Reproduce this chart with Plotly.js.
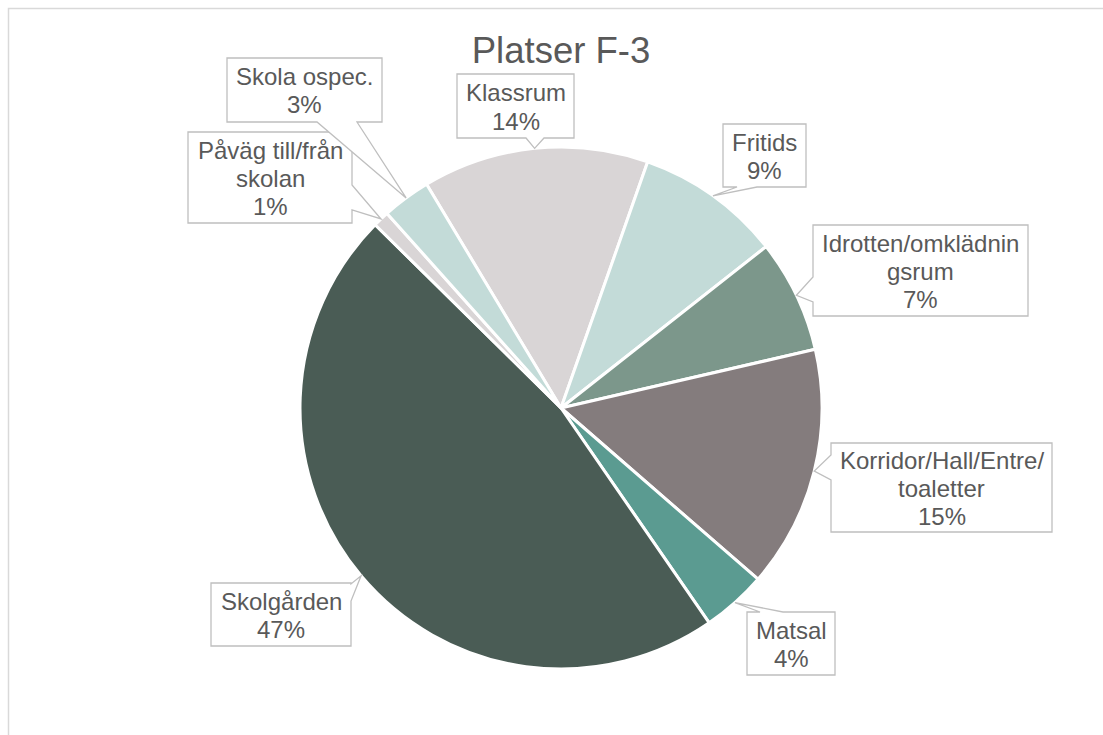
<!DOCTYPE html>
<html><head><meta charset="utf-8">
<script src="https://cdn.plot.ly/plotly-3.0.1.min.js"></script>
<style>html,body{margin:0;padding:0;background:#fff}</style>
</head><body><div id="chart" style="width:1103px;height:735px"></div>
<script>
// ---- data ----
const categories = ["Klassrum", "Fritids", "Idrotten/omklädningsrum", "Korridor/Hall/Entre/toaletter", "Matsal", "Skolgården", "Påväg till/från skolan", "Skola ospec."];
const values = [14, 9, 7, 15, 4, 47, 1, 3];
// display lines for the callouts (name wrapped as in the original)
const labelLines = [["Klassrum"], ["Fritids"], ["Idrotten/omklädnin", "gsrum"], ["Korridor/Hall/Entre/", "toaletter"], ["Matsal"], ["Skolgården"], ["Påväg till/från", "skolan"], ["Skola ospec."]];
const chartTitle = "Platser F-3";

// ---- styles / layout ----
const colors = ["#D9D5D6", "#C3DBD8", "#7C978B", "#847C7D", "#5B9B91", "#4A5C55", "#D9D5D6", "#C3DBD8"];
const W = 1103, H = 735, CX = 561, CY = 408, R = 261, ROT = -31;
const FONT = "Liberation Sans, Arial, sans-serif";
const TEXT_COLOR = "#595959";
// callout boxes in pixels: [x0,y0,x1,y1], pointer side and base range
const callouts = [
  {box: [457, 74, 574, 138], side: "bottom", base: [526, 544]},
  {box: [723, 124, 806, 187], side: "bottom", base: [737, 757]},
  {box: [813, 225, 1028, 316], side: "left", base: [277, 302]},
  {box: [831, 443, 1052, 532], side: "left", base: [455, 480]},
  {box: [747, 612, 835, 675], side: "top", base: [760, 783]},
  {box: [211, 583, 351, 646], side: "right", base: [584, 601]},
  {box: [188, 132, 352, 223], side: "right", base: [185, 210]},
  {box: [227, 58, 382, 122], side: "bottom", base: [317, 357]}
];
const LINE_H = 28;

const px = x => x / W;
const py = y => 1 - y / H;

const total = values.reduce((a, b) => a + b, 0);
let cum = 0;
const shapes = [];
const annotations = [];

// chart frame
shapes.push({type: "rect", xref: "paper", yref: "paper", x0: px(8.5), x1: 1.2, y0: -0.2, y1: py(8.5),
  line: {color: "#D9D9D9", width: 1.5}, fillcolor: "rgba(0,0,0,0)", layer: "below"});

values.forEach((v, i) => {
  const mid = (ROT + 360 * (cum + v / 2) / total) * Math.PI / 180;
  cum += v;
  const tx = CX + R * Math.sin(mid), ty = CY - R * Math.cos(mid);
  const c = callouts[i];
  const [x0, y0, x1, y1] = c.box;
  const [a, b] = c.base;
  let pts = [[x0, y0]];
  if (c.side === "top") pts.push([a, y0], [tx, ty], [b, y0]);
  pts.push([x1, y0]);
  if (c.side === "right") pts.push([x1, a], [tx, ty], [x1, b]);
  pts.push([x1, y1]);
  if (c.side === "bottom") pts.push([b, y1], [tx, ty], [a, y1]);
  pts.push([x0, y1]);
  if (c.side === "left") pts.push([x0, b], [tx, ty], [x0, a]);
  const path = "M" + pts.map(p => px(p[0]).toFixed(5) + "," + py(p[1]).toFixed(5)).join(" L") + " Z";
  shapes.push({type: "path", xref: "paper", yref: "paper", path: path,
    fillcolor: "#FFFFFF", line: {color: "#BFBFBF", width: 1.3}, layer: "above"});

  const lines = labelLines[i].concat([Math.round(v / total * 100) + "%"]);
  const bcx = (x0 + x1) / 2, bcy = (y0 + y1) / 2 + 1;
  lines.forEach((t, k) => {
    const ly = bcy + (k - (lines.length - 1) / 2) * LINE_H;
    annotations.push({text: t, xref: "paper", yref: "paper", x: px(bcx), y: py(ly),
      xanchor: "center", yanchor: "middle", showarrow: false,
      font: {family: FONT, size: 24, color: TEXT_COLOR}});
  });
});

const trace = {
  type: "pie",
  labels: categories,
  values: values,
  sort: false,
  direction: "clockwise",
  rotation: ROT,
  textinfo: "none",
  hoverinfo: "label+percent",
  marker: {colors: colors, line: {color: "#FFFFFF", width: 3}},
  domain: {x: [px(CX - R), px(CX + R)], y: [py(CY + R), py(CY - R)]},
  showlegend: false
};

const layout = {
  width: W, height: H,
  margin: {l: 0, r: 0, t: 0, b: 0},
  paper_bgcolor: "#FFFFFF",
  title: {text: chartTitle, font: {family: FONT, size: 36.5, color: TEXT_COLOR},
    x: px(CX), xref: "paper", xanchor: "center", y: 1 - 50 / H, yref: "container", yanchor: "middle"},
  shapes: shapes,
  annotations: annotations,
  showlegend: false
};

Plotly.newPlot("chart", [trace], layout, {displayModeBar: false, staticPlot: false});
</script>
</body></html>
